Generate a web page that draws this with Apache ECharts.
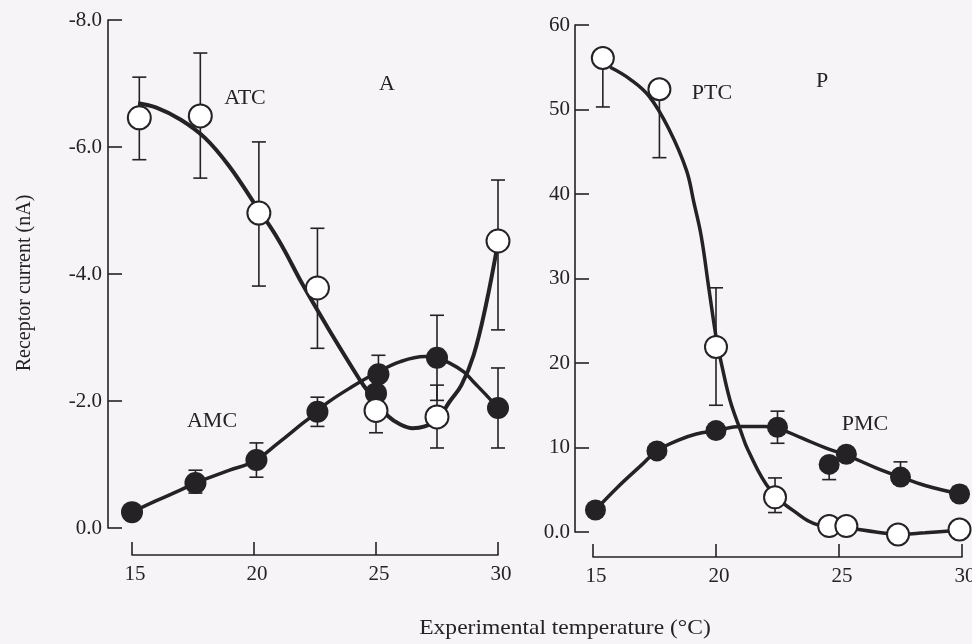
<!DOCTYPE html>
<html>
<head>
<meta charset="utf-8">
<style>
  html, body { margin: 0; padding: 0; background: #f6f4f6; }
  #chart { width: 972px; height: 644px; }
</style>
<script src="https://cdn.jsdelivr.net/npm/echarts@6/dist/echarts.min.js"></script>
</head>
<body>
<div id="chart"></div>
<script>
// ---- Panel A: anterior receptor currents (nA) vs temperature ----
const atcTemp = [15.3, 17.8, 20.2, 22.6, 25.0, 27.5, 30.0];
const atcMean = [-6.46, -6.49, -4.96, -3.78, -1.85, -1.75, -4.52];
const atcLow  = [-7.10, -7.48, -6.08, -4.72, -2.20, -2.25, -5.48];
const atcHigh = [-5.80, -5.51, -3.81, -2.83, -1.50, -1.26, -3.12];

const amcTemp = [15.0, 17.6, 20.1, 22.6, 25.0, 25.1, 27.5, 30.0];
const amcMean = [-0.25, -0.71, -1.07, -1.83, -2.12, -2.42, -2.68, -1.89];
const amcLow  = [null, -0.91, -1.34, -2.06, null, -2.72, -3.35, -2.52];
const amcHigh = [null, -0.55, -0.80, -1.60, null, -2.12, -2.01, -1.26];

// fitted curves, panel A
const atcCurveTemp = [15.25, 16, 17, 18, 19, 20, 21, 22, 23, 24, 24.5, 25, 25.5, 26, 26.5, 27, 27.5, 28, 28.5, 29, 29.5, 30];
const atcCurveVal  = [-6.69, -6.62, -6.43, -6.14, -5.69, -5.12, -4.54, -3.83, -3.17, -2.54, -2.24, -2.0, -1.76, -1.63, -1.57, -1.6, -1.70, -1.98, -2.25, -2.72, -3.5, -4.5];
const amcCurveTemp = [15, 16, 17, 17.6, 18, 19, 20, 21, 22, 22.6, 23, 24, 25, 26, 27, 27.5, 28, 28.6, 29, 29.5, 30];
const amcCurveVal  = [-0.25, -0.43, -0.6, -0.71, -0.77, -0.91, -1.05, -1.34, -1.65, -1.83, -1.97, -2.22, -2.44, -2.62, -2.70, -2.68, -2.6, -2.46, -2.3, -2.1, -1.89];

// ---- Panel P: posterior receptor currents ----
const ptcTemp = [15.4, 17.7, 20.0, 22.4, 24.6, 25.3, 27.4, 29.9];
const ptcMean = [56.1, 52.4, 21.9, 4.1, 0.7, 0.7, -0.3, 0.3];
const ptcLow  = [50.3, 44.3, 15.0, 2.3, null, null, null, null];
const ptcHigh = [56.1, 52.4, 28.9, 6.4, null, null, null, null];

const pmcTemp = [15.1, 17.6, 20.0, 22.5, 24.6, 25.3, 27.5, 29.9];
const pmcMean = [2.6, 9.6, 12.0, 12.4, 8.0, 9.2, 6.5, 4.5];
const pmcLow  = [null, null, null, 10.5, 6.2, null, 6.5, 3.8];
const pmcHigh = [null, null, null, 14.3, 8.0, null, 8.3, 5.4];

// fitted curves, panel P
const ptcCurveTemp = [15.7, 16.5, 17.3, 18.1, 18.8, 19.1, 19.4, 19.72, 20.04, 20.2, 20.57, 21.0, 21.3, 22.2, 23.3, 24.2, 25.3, 26.5, 27.4, 28.5, 29.9];
const ptcCurveVal  = [55.0, 53.6, 51.5, 47.6, 42.8, 39.0, 35.0, 28.6, 22.4, 20.2, 15.6, 12.0, 9.7, 5.0, 2.2, 0.8, 0.5, 0.0, -0.3, -0.1, 0.2];
const pmcCurveTemp = [15.1, 16, 17, 17.6, 18.5, 19.2, 20.0, 21.0, 22.0, 22.5, 23.5, 24.5, 25.3, 26.5, 27.5, 28.5, 29.9];
const pmcCurveVal  = [2.6, 5.3, 8.0, 9.6, 10.9, 11.6, 12.0, 12.5, 12.5, 12.3, 11.1, 9.9, 9.1, 7.6, 6.5, 5.5, 4.5];

// axis ticks
const tempTicks = [15, 20, 25, 30];
const leftTicks = [0, -2, -4, -6, -8];
const rightTicks = [0, 10, 20, 30, 40, 50, 60];

const INK = '#242224';
const SERIF = "'Liberation Serif', 'Times New Roman', serif";

const zip = (a, b) => a.map((v, i) => [v, b[i]]);
const bars = (t, lo, hi) => t.map((v, i) => [v, lo[i], hi[i]]).filter(d => d[1] !== null);

function errorBar(params, api) {
  const x = api.value(0);
  const p1 = api.coord([x, api.value(1)]);
  const p2 = api.coord([x, api.value(2)]);
  const cap = 7;
  const st = { stroke: INK, lineWidth: 1.6 };
  return {
    type: 'group',
    children: [
      { type: 'line', shape: { x1: p1[0], y1: p1[1], x2: p2[0], y2: p2[1] }, style: st },
      { type: 'line', shape: { x1: p1[0] - cap, y1: p1[1], x2: p1[0] + cap, y2: p1[1] }, style: st },
      { type: 'line', shape: { x1: p2[0] - cap, y1: p2[1], x2: p2[0] + cap, y2: p2[1] }, style: st }
    ]
  };
}

const axisText = { color: INK, fontFamily: SERIF, fontSize: 21 };

function xAxisFor(gridIndex, offset) {
  return {
    type: 'value', gridIndex, min: 15, max: 30, interval: 5, offset,
    axisLine: { onZero: false, lineStyle: { color: INK, width: 1.6 } },
    axisTick: { inside: true, length: 13, lineStyle: { color: INK, width: 1.6 } },
    axisLabel: Object.assign({ margin: 9, padding: [0, 0, 0, 6], formatter: v => tempTicks.includes(v) ? String(v) : '' }, axisText),
    splitLine: { show: false }
  };
}

function yAxisFor(gridIndex, opts) {
  return Object.assign({
    type: 'value', gridIndex,
    axisLine: { show: true, onZero: false, lineStyle: { color: INK, width: 1.6 } },
    axisTick: { show: true, inside: true, length: 14, lineStyle: { color: INK, width: 1.6 } },
    splitLine: { show: false }
  }, opts);
}

const chart = echarts.init(document.getElementById('chart'), null, { renderer: 'canvas' });

const option = {
  backgroundColor: '#f6f4f6',
  animation: false,
  grid: [
    { left: 132, right: 474, top: 20, bottom: 116, containLabel: false, outerBoundsMode: 'none' },
    { left: 593, right: 10, top: 25, bottom: 112, containLabel: false, outerBoundsMode: 'none' }
  ],
  xAxis: [xAxisFor(0, 27), xAxisFor(1, 25)],
  yAxis: [
    yAxisFor(0, {
      min: -8, max: 0, interval: 2, inverse: true, offset: 24,
      axisLabel: Object.assign({ margin: 6, formatter: v => leftTicks.includes(v) ? v.toFixed(1) : '' }, axisText)
    }),
    yAxisFor(1, {
      min: 0, max: 60, interval: 10, offset: 18,
      axisLabel: Object.assign({ margin: 5, formatter: v => rightTicks.includes(v) ? (v === 0 ? '0.0' : String(v)) : '' }, axisText)
    })
  ],
  series: [
    // error bars
    { type: 'custom', name: 'ATC SE', xAxisIndex: 0, yAxisIndex: 0, z: 1, renderItem: errorBar, data: bars(atcTemp, atcLow, atcHigh) },
    { type: 'custom', name: 'AMC SE', xAxisIndex: 0, yAxisIndex: 0, z: 1, renderItem: errorBar, data: bars(amcTemp, amcLow, amcHigh) },
    { type: 'custom', name: 'PTC SE', xAxisIndex: 1, yAxisIndex: 1, z: 1, renderItem: errorBar, data: bars(ptcTemp, ptcLow, ptcHigh) },
    { type: 'custom', name: 'PMC SE', xAxisIndex: 1, yAxisIndex: 1, z: 1, renderItem: errorBar, data: bars(pmcTemp, pmcLow, pmcHigh) },
    // fitted curves
    { type: 'line', name: 'ATC fit', xAxisIndex: 0, yAxisIndex: 0, z: 2, smooth: 0.4, showSymbol: false, clip: false,
      lineStyle: { color: INK, width: 4 }, data: zip(atcCurveTemp, atcCurveVal) },
    { type: 'line', name: 'AMC fit', xAxisIndex: 0, yAxisIndex: 0, z: 2, smooth: 0.4, showSymbol: false, clip: false,
      lineStyle: { color: INK, width: 3.5 }, data: zip(amcCurveTemp, amcCurveVal) },
    { type: 'line', name: 'PTC fit', xAxisIndex: 1, yAxisIndex: 1, z: 2, smooth: 0.4, showSymbol: false, clip: false,
      lineStyle: { color: INK, width: 3.5 }, data: zip(ptcCurveTemp, ptcCurveVal) },
    { type: 'line', name: 'PMC fit', xAxisIndex: 1, yAxisIndex: 1, z: 2, smooth: 0.4, showSymbol: false, clip: false,
      lineStyle: { color: INK, width: 3.5 }, data: zip(pmcCurveTemp, pmcCurveVal) },
    // measured points
    { type: 'scatter', name: 'AMC', xAxisIndex: 0, yAxisIndex: 0, z: 3, symbolSize: 22, clip: false,
      itemStyle: { color: INK, opacity: 1 }, data: zip(amcTemp, amcMean) },
    { type: 'scatter', name: 'ATC', xAxisIndex: 0, yAxisIndex: 0, z: 4, symbolSize: 23, clip: false,
      itemStyle: { color: '#ffffff', borderColor: INK, borderWidth: 2, opacity: 1 }, data: zip(atcTemp, atcMean) },
    { type: 'scatter', name: 'PMC', xAxisIndex: 1, yAxisIndex: 1, z: 3, symbolSize: 21, clip: false,
      itemStyle: { color: INK, opacity: 1 }, data: zip(pmcTemp, pmcMean) },
    { type: 'scatter', name: 'PTC', xAxisIndex: 1, yAxisIndex: 1, z: 4, symbolSize: 22, clip: false,
      itemStyle: { color: '#ffffff', borderColor: INK, borderWidth: 2, opacity: 1 }, data: zip(ptcTemp, ptcMean) }
  ],
  graphic: [
    { type: 'text', x: 245, y: 98, style: { text: 'ATC', fill: INK, font: '22px ' + SERIF, textAlign: 'center', textVerticalAlign: 'middle' } },
    { type: 'text', x: 387, y: 84, style: { text: 'A', fill: INK, font: '22px ' + SERIF, textAlign: 'center', textVerticalAlign: 'middle' } },
    { type: 'text', x: 212, y: 421, style: { text: 'AMC', fill: INK, font: '22px ' + SERIF, textAlign: 'center', textVerticalAlign: 'middle' } },
    { type: 'text', x: 712, y: 93, style: { text: 'PTC', fill: INK, font: '22px ' + SERIF, textAlign: 'center', textVerticalAlign: 'middle' } },
    { type: 'text', x: 822, y: 81, style: { text: 'P', fill: INK, font: '22px ' + SERIF, textAlign: 'center', textVerticalAlign: 'middle' } },
    { type: 'text', x: 865, y: 424, style: { text: 'PMC', fill: INK, font: '22px ' + SERIF, textAlign: 'center', textVerticalAlign: 'middle' } },
    { type: 'text', x: 565, y: 628, scaleX: 1.12, style: { text: 'Experimental temperature (°C)', fill: INK, font: '21px ' + SERIF, textAlign: 'center', textVerticalAlign: 'middle' } },
    { type: 'text', x: 25, y: 283, rotation: Math.PI / 2, style: { text: 'Receptor current (nA)', fill: INK, font: '20px ' + SERIF, textAlign: 'center', textVerticalAlign: 'middle' } }
  ]
};

chart.setOption(option);
</script>
</body>
</html>
